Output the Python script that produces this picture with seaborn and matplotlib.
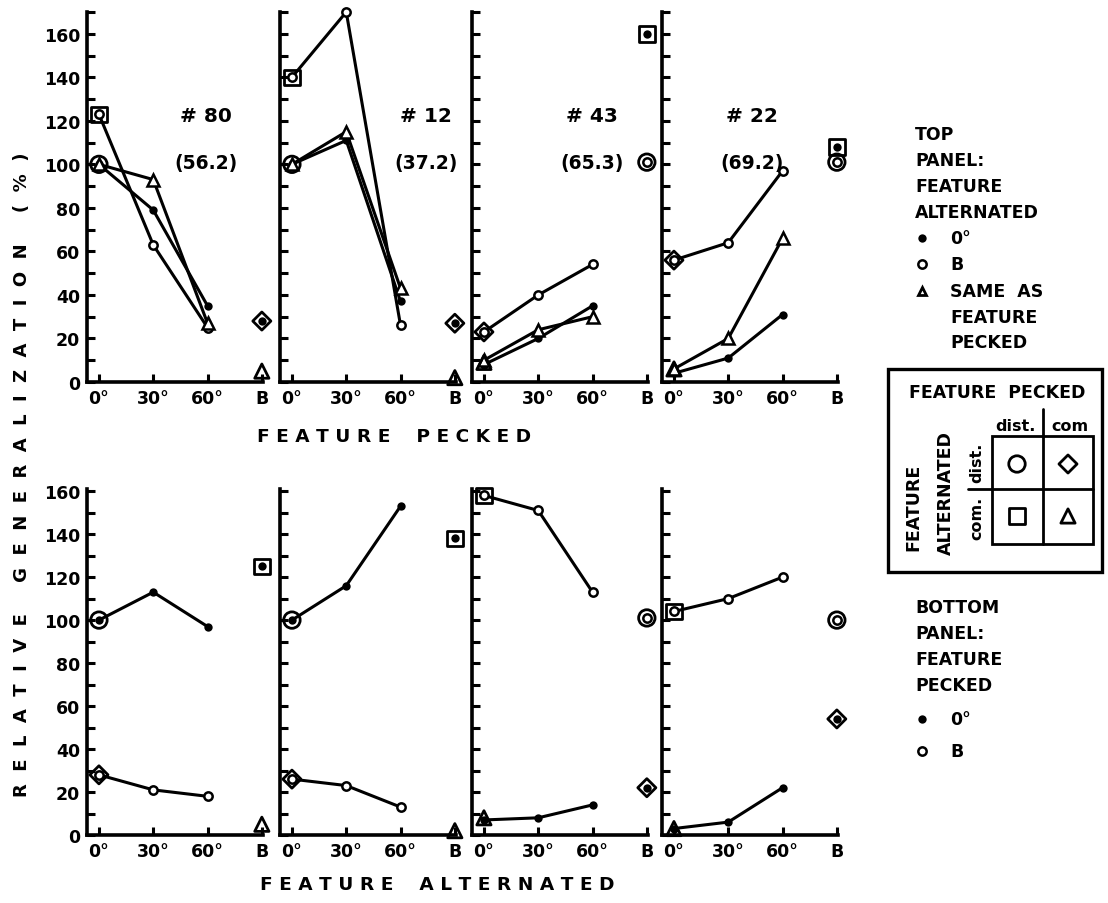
import numpy as np
import pandas as pd
import matplotlib
matplotlib.use("Agg")
import matplotlib.pyplot as plt
from matplotlib.patches import Rectangle
import seaborn as sns

sns.set_style("ticks")
plt.rcParams['font.family'] = ['DejaVu Sans']
plt.rcParams['font.weight'] = 'bold'
for k in ("text.color", "xtick.color", "ytick.color", "axes.edgecolor", "axes.labelcolor"):
    plt.rcParams[k] = "black"

# categories on the x axis
cats = ["0°", "30°", "60°", "B"]
pos = {c: i for i, c in enumerate(cats)}
birds = ["# 80", "# 12", "# 43", "# 22"]
pcts = ["(56.2)", "(37.2)", "(65.3)", "(69.2)"]

# top row: x = feature pecked, series = feature alternated
top_filled = [[100, 79, 35], [100, 111, 37], [8, 20, 35], [4, 11, 31]]
top_open = [[123, 63, 25], [140, 170, 26], [23, 40, 54], [56, 64, 97]]
top_tri = [[100, 93, 27], [100, 115, 43], [10, 24, 30], [6, 20, 66]]
# big symbols: (marker, category, value, inner dot)
top_big = [
    [("o", "0°", 100, None), ("s", "0°", 123, None), ("D", "B", 28, "filled"), ("^", "B", 5, None)],
    [("o", "0°", 100, None), ("s", "0°", 140, None), ("D", "B", 27, "filled"), ("^", "B", 2, None)],
    [("D", "0°", 23, None), ("^", "0°", 9, None), ("s", "B", 160, "filled"), ("o", "B", 101, "open")],
    [("D", "0°", 56, None), ("^", "0°", 6, None), ("s", "B", 108, "filled"), ("o", "B", 101, "open")],
]

# bottom row: x = feature alternated, series = feature pecked
bot_filled = [[100, 113, 97], [100, 116, 153], [7, 8, 14], [3, 6, 22]]
bot_open = [[28, 21, 18], [26, 23, 13], [158, 151, 113], [104, 110, 120]]
bot_big = [
    [("o", "0°", 100, None), ("D", "0°", 28, None), ("s", "B", 125, "filled"), ("^", "B", 5, None)],
    [("o", "0°", 100, None), ("D", "0°", 26, None), ("s", "B", 138, "filled"), ("^", "B", 2, None)],
    [("s", "0°", 158, None), ("^", "0°", 8, None), ("o", "B", 101, "open"), ("D", "B", 22, "filled")],
    [("s", "0°", 104, None), ("^", "0°", 3, None), ("o", "B", 100, "open"), ("D", "B", 54, "filled")],
]

W, H = 1108, 904
fig = plt.figure(figsize=(W / 100, H / 100), dpi=100)

LW = 2.2
small = {
    "filled": dict(marker="o", markersize=6, markerfacecolor="black", markeredgewidth=0),
    "open": dict(marker="o", markersize=6, markerfacecolor="white", markeredgewidth=1.8),
    "tri": dict(marker="^", markersize=9, markerfacecolor="white", markeredgewidth=1.8),
}
big_size = {"o": 140, "s": 125, "D": 85, "^": 105}


def draw_series(ax, vals, kind):
    df = pd.DataFrame({"x": [pos[c] for c in cats[:3]], "y": vals})
    sns.lineplot(data=df, x="x", y="y", ax=ax, color="black", lw=LW,
                 markeredgecolor="black", clip_on=False, zorder=3, **small[kind])


def draw_big(ax, items):
    for m, c, v, inner in items:
        sns.scatterplot(x=[pos[c]], y=[v], ax=ax, marker=m, s=big_size[m],
                        facecolor="none", edgecolor="black", linewidth=2.0,
                        clip_on=False, zorder=4)
        if inner is not None:
            ax.plot([pos[c]], [v], color="black", clip_on=False, zorder=5,
                    markeredgecolor="black", **small[inner])


def style_axis(ax, ytop, first):
    ax.set_xlim(-0.22, 3.03)
    ax.set_ylim(0, ytop)
    ax.set_xticks(range(4))
    ax.set_xticklabels(cats)
    ax.set_yticks(range(0, 161, 20))
    ax.set_yticks(list(range(10, ytop + 1, 20)), minor=True)
    ax.tick_params(which="both", direction="in", length=6, width=2.2, labelsize=12.5,
                   color="black", labelcolor="black")
    ax.tick_params(axis="x", pad=5)
    ax.tick_params(axis="y", pad=5, labelleft=first)
    ax.set_xlabel("")
    ax.set_ylabel("")
    sns.despine(ax=ax)
    for s in ("left", "bottom"):
        ax.spines[s].set_linewidth(2.6)
        ax.spines[s].set_color("black")
    ax.patch.set_alpha(0)


lefts = [87, 280, 472, 662]
aw = 3.25 * 54.3
for i in range(4):
    ax = fig.add_axes([lefts[i] / W, (H - 383) / H, aw / W, 370 / H])
    draw_series(ax, top_filled[i], "filled")
    draw_series(ax, top_open[i], "open")
    draw_series(ax, top_tri[i], "tri")
    draw_big(ax, top_big[i])
    style_axis(ax, 170, i == 0)

    ax = fig.add_axes([lefts[i] / W, (H - 836) / H, aw / W, 346 / H])
    draw_series(ax, bot_filled[i], "filled")
    draw_series(ax, bot_open[i], "open")
    draw_big(ax, bot_big[i])
    style_axis(ax, 161, i == 0)

# overlay in pixel coordinates for labels and legends
ov = fig.add_axes([0, 0, 1, 1])
ov.set_xlim(0, W)
ov.set_ylim(H, 0)
ov.axis("off")
ov.patch.set_alpha(0)

label_x = [206, 426, 592, 752]
for i in range(4):
    ov.text(label_x[i], 116, birds[i], ha="center", va="center", fontsize=14.5)
    ov.text(label_x[i], 163, pcts[i], ha="center", va="center", fontsize=13.5)


def spaced(words, sep="  ", gap="      "):
    return gap.join(sep.join(w) for w in words)


ov.text(22, 475, spaced(["RELATIVE", "GENERALIZATION", "(%)"], "  ", "     "),
        rotation=90, ha="center", va="center", fontsize=13)
ov.text(394, 437, spaced(["FEATURE", "PECKED"], " ", "    "), ha="center", va="center", fontsize=13.3)
ov.text(437, 885, spaced(["FEATURE", "ALTERNATED"], " ", "    "), ha="center", va="center", fontsize=13.3)

# right-hand notes
tx = 915
for y, t in zip([135, 161, 187, 213], ["TOP", "PANEL:", "FEATURE", "ALTERNATED"]):
    ov.text(tx, y, t, ha="left", va="center", fontsize=12.5)
for y, t in zip([239, 265, 292, 318, 343], ["0°", "B", "SAME  AS", "FEATURE", "PECKED"]):
    ov.text(950, y, t, ha="left", va="center", fontsize=12.5)
ov.plot([922], [239], color="black", **small["filled"])
ov.plot([922], [265], markeredgecolor="black", color="black", **small["open"])
ov.plot([922], [292], marker="^", markersize=6, markerfacecolor="white",
        markeredgecolor="black", markeredgewidth=2, color="black")

for y, t in zip([608, 634, 660, 686], ["BOTTOM", "PANEL:", "FEATURE", "PECKED"]):
    ov.text(tx, y, t, ha="left", va="center", fontsize=12.5)
for y, t in zip([720, 752], ["0°", "B"]):
    ov.text(950, y, t, ha="left", va="center", fontsize=12.5)
ov.plot([922], [720], color="black", **small["filled"])
ov.plot([922], [752], markeredgecolor="black", color="black", **small["open"])

# key box
ov.add_patch(Rectangle((888, 370), 214, 203, fill=False, lw=2.4, ec="black"))
ov.text(997, 393, "FEATURE  PECKED", ha="center", va="center", fontsize=12.5)
ov.add_patch(Rectangle((992, 437), 101, 108, fill=False, lw=2.0, ec="black"))
ov.plot([1043, 1043], [410, 545], color="black", lw=2.0)
ov.plot([968, 1093], [490, 490], color="black", lw=2.0)
ov.text(1015, 427, "dist.", ha="center", va="center", fontsize=11.5)
ov.text(1070, 427, "com", ha="center", va="center", fontsize=11.5)
ov.text(977, 463, "dist.", rotation=90, ha="center", va="center", fontsize=11.5)
ov.text(977, 518, "com.", rotation=90, ha="center", va="center", fontsize=11.5)
ov.text(913, 507, "FEATURE", rotation=90, ha="center", va="center", fontsize=12.5)
ov.text(946, 493, "ALTERNATED", rotation=90, ha="center", va="center", fontsize=12.5)
for m, x, y in [("o", 1017, 465), ("D", 1068, 465), ("s", 1017, 517), ("^", 1068, 517)]:
    ov.scatter([x], [y], marker=m, s=big_size[m], facecolor="none", edgecolor="black", linewidth=2.0)

fig.savefig("out.png", dpi=100)
